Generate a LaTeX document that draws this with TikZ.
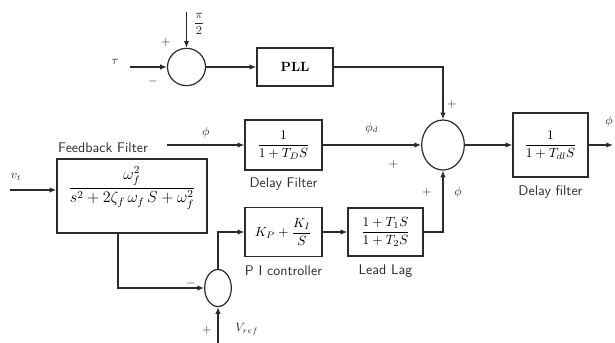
\documentclass[tikz,border=0pt]{standalone}
\usepackage{amsmath}
\usetikzlibrary{positioning,arrows.meta,calc,shapes.geometric}
\definecolor{ink}{HTML}{2B2B2B}
\tikzset{
  blk/.style={draw=ink, line width=0.9pt, inner sep=2pt, align=center},
  sumj/.style={draw=ink, line width=0.9pt, ellipse, inner sep=0pt},
  lab/.style={font=\sffamily\fontsize{10.5}{12}\selectfont, text=ink, inner sep=1pt},
  sgn/.style={font=\small, text=ink, inner sep=0pt},
  flow/.style={-{Latex[length=5pt,width=4pt]}, draw=ink, line width=0.9pt},
}

\begin{document}
\begin{tikzpicture}[x=0.75pt, y=-0.75pt]
    \useasboundingbox (0,0) rectangle (615,343);
    % top branch: angle reference and PLL
    \node[sumj, minimum width=28.5pt, minimum height=28pt] (sum1) at (186.5,67) {};
    \node[blk, minimum width=57pt, minimum height=28.5pt] (pll) at (295,67) {\textbf{PLL}};
    \coordinate (tauin) at (130,67);
    \coordinate (piin) at (186.5,12);
    \node[sgn] at (115,62) {$\tau$};
    \node[sgn] at (199,24) {$\dfrac{\pi}{2}$};
    \node[sgn] at (166,42) {$+$};
    \node[sgn] at (153,81) {$-$};
    % feedback filter
    \node[blk, minimum width=112.5pt, minimum height=55.5pt, text height=14pt, text depth=20pt] (fb) at (132,196)
      {\large$\dfrac{\omega_f^2}{s^2+2\zeta_f\,\omega_f\,S+\omega_f^2}$};
    \node[lab] (fblab) at (103,148) {Feedback Filter};
    \coordinate (fbout) at (167,145);
    \coordinate (vtin) at (10,190);
    \node[sgn] at (16,177) {$v_t$};
    % delay filter and summing point
    \node[blk, minimum width=57.75pt, minimum height=37.5pt] (dfil) at (283.5,145) {$\dfrac{1}{1+T_DS}$};
    \node[lab, below=4pt of dfil] {Delay Filter};
    \node[sumj, minimum width=32pt, minimum height=37.5pt] (sum2) at (443,145) {};
    % PI controller and lead lag
    \node[blk, minimum width=57.75pt, minimum height=36.75pt] (pi) at (283.5,232) {$K_P+\dfrac{K_I}{S}$};
    \node[lab, below=5pt of pi] {P I controller};
    \node[blk, minimum width=56.25pt, minimum height=36pt] (ll) at (385.5,232) {$\dfrac{1+T_1S}{1+T_2S}$};
    \node[lab, below=5pt of ll] {Lead Lag};
    \node[sumj, minimum width=20pt, minimum height=27.75pt] (sum3) at (218,288) {};
    \coordinate (vref) at (218,343);
    \node[sgn] at (191,283) {$-$};
    \node[sgn] at (207,330) {$+$};
    \node[sgn] at (247,329) {$V_{ref}$};
    % output delay filter
    \node[blk, minimum width=56.25pt, minimum height=48pt] (dfil2) at (550.5,145) {$\dfrac{1}{1+T_{dl}S}$};
    \node[lab, below=5pt of dfil2] {Delay filter};
    \coordinate (out) at (613,145);
    \node[sgn] at (609,121) {$\phi$};
    % flows
    \draw[flow] (tauin) -- (sum1.west);
    \draw[flow] (piin) -- (sum1.north);
    \draw[flow] (sum1.east) -- (pll.west);
    \draw[flow] (pll.east) -| (sum2.north);
    \draw[flow] (vtin) -- (vtin -| fb.west);
    \draw[flow] (fbout) -- node[sgn, above=5pt]{$\phi$} (dfil.west);
    \draw[flow] (dfil.east) -- node[sgn, above=8pt]{$\phi_d$} node[sgn, below=11pt, pos=0.72]{$+$} (sum2.west);
    \draw[flow] ($(fb.south)+(-14,0)$) |- (sum3.west);
    \draw[flow] (sum3.north) |- (pi.west);
    \draw[flow] (vref) -- (sum3.south);
    \draw[flow] (pi) -- (ll);
    \draw[flow] (ll.east) -| node[sgn, pos=0.82, left=8pt]{$+$} node[sgn, pos=0.82, right=8pt]{$\phi$} (sum2.south);
    \draw[flow] (sum2.east) -- (dfil2.west);
    \draw[flow] (dfil2.east) -- (out);
    \node[sgn] at (452,104) {$+$};
  \end{tikzpicture}
\end{document}
